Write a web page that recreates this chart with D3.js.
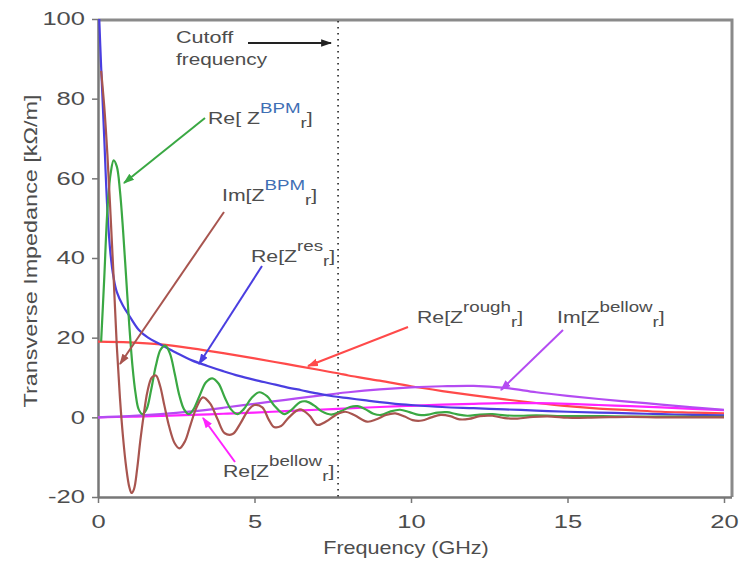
<!DOCTYPE html>
<html><head><meta charset="utf-8">
<script src="https://cdn.jsdelivr.net/npm/d3@7"></script>
<style>
html,body{margin:0;padding:0;background:#fff;}
svg text{font-family:"Liberation Sans",Arial,sans-serif;}
</style></head>
<body><svg id="c" width="743" height="564"></svg>
<script>
// ---- data (frequency GHz, impedance kOhm/m) ----
const xTicks = [0, 5, 10, 15, 20];
const yTicks = [-20, 0, 20, 40, 60, 80, 100];
const cutoffFreq = 7.67;

const fReBPM = [0.1,0.2,0.3,0.4,0.5,0.6,0.7,0.8,0.9,1.0,1.1,1.2,1.3,1.42,1.55,1.7,1.85,2.0,2.15,2.3,2.45,2.6,2.75,2.9,3.05,3.25,3.45,3.65,3.85,4.05,4.25,4.45,4.65,4.9,5.15,5.4,5.65,5.95,6.2,6.45,6.65,6.9,7.15,7.45,7.75,8.05,8.3,8.55,8.8,9.05,9.35,9.65,9.95,10.25,10.55,10.85,11.15,11.45,11.8,12.2,12.6,13.0,13.5,14,15,16,17,18,19,20];
const vReBPM = [19,35,52,61,64.5,63,57,47,35,23,13,6,2,0.8,2,7,13,17,18,16,11,5.5,2,0.8,2,5.5,8.8,9.8,8.5,5,2,0.8,2,4.8,6.3,5.3,2.8,0.8,2,3.8,4.0,3.0,1.5,0.7,1.5,2.6,2.8,2,0.9,0.6,1.5,1.9,1.3,0.6,0.7,1.2,1.3,0.8,0.4,0.7,0.8,0.5,0.4,0.5,0.3,0.3,0.2,0.2,0.15,0.1];

const fImBPM = [0.1,0.2,0.3,0.4,0.5,0.6,0.7,0.8,0.9,1.0,1.07,1.15,1.25,1.35,1.45,1.58,1.72,1.85,1.98,2.12,2.28,2.45,2.6,2.78,2.95,3.15,3.35,3.58,3.82,4.05,4.3,4.55,4.8,5.0,5.25,5.45,5.62,5.85,6.1,6.45,6.75,7.0,7.3,7.6,7.9,8.2,8.6,8.9,9.2,9.5,9.8,10.05,10.35,10.65,10.95,11.25,11.55,11.85,12.2,12.6,13.0,13.4,13.9,14.5,15,16,17,18,19,20];
const vImBPM = [87,78,66,51,35,18,5,-5,-12.5,-17.5,-19,-18,-13,-6,0,6.5,10,10.5,8,3,-2.5,-6.5,-7.8,-6,-2,2.5,5,3.5,-0.5,-4,-4.2,-1.5,1.8,3.1,2.5,-0.5,-2.4,-2.2,0,2.0,0.5,-1.9,-1.0,0.6,1.4,0.5,-1.1,-0.5,0.6,1.0,0.2,-0.7,-0.8,0,0.6,0.3,-0.5,-0.4,0.3,0.4,-0.2,-0.3,0.1,0.2,-0.1,0,0.1,0,0,0];

const fReRes = [0.03,0.1,0.2,0.3,0.4,0.5,0.6,0.8,1.0,1.3,1.6,2.0,2.5,3.0,3.5,4.0,4.5,5.0,5.5,6,6.5,7,7.5,8,8.5,9,9.5,10,11,12,13,14,15,16,17,18,19,20];
const vReRes = [102,88,70,52,41,35,31.5,28,25.5,22,20,18.3,16.2,14.3,12.9,11.6,10.4,9.4,8.5,7.6,6.8,6.0,5.3,4.8,4.3,3.8,3.4,3.1,2.6,2.3,2.0,1.7,1.4,1.2,1.0,0.8,0.6,0.5];

const fReRough = [0,1,2,3,4,5,6,7,7.7,8,9,10,11,12,13,14,15,16,17,18,19,20];
const vReRough = [19,18.8,18.3,17.3,16.1,14.8,13.4,12,11,10.5,9.2,7.8,6.6,5.5,4.5,3.6,2.8,2.2,1.8,1.4,1.2,1.0];

const fImBellow = [0,1,2,3,4,5,6,7,8,9,10,11,12,13,14,15,16,17,18,19,20];
const vImBellow = [0,0.3,0.8,1.5,2.4,3.4,4.4,5.4,6.3,7.0,7.5,7.8,7.9,7.4,6.3,5.4,4.6,3.9,3.2,2.5,1.9];

const fReBellow = [0,1,2,3,4,5,6,7,8,9,10,11,12,13,14,15,16,17,18,19,20];
const vReBellow = [0,0.15,0.35,0.6,0.9,1.2,1.55,1.9,2.25,2.6,2.9,3.2,3.4,3.55,3.55,3.4,3.1,2.8,2.5,2.1,1.8];

// ---- layout ----
const svg = d3.select("#c");
const L = 98, R = 724, T = 19, B = 497;
const x = d3.scaleLinear().domain([0, 20]).range([L, R]);
const y = d3.scaleLinear().domain([-20, 100]).range([B, T]);
const frameRight = 732;
const TXT = "#4d4d4d";

function stretch(sel, sx){
  sel.each(function(){
    const t = d3.select(this);
    const px = +t.attr("x") || 0, py = +t.attr("y") || 0;
    t.attr("transform", `translate(${px},${py}) scale(${sx},1) translate(${-px},${-py})`);
  });
}

const defs = svg.append("defs");
defs.append("clipPath").attr("id","clip")
  .append("rect").attr("x",L).attr("y",T).attr("width",frameRight-L).attr("height",B-T);

// frame top/right
svg.append("path").attr("d",`M${L},${T+1}H${frameRight}V${B}`)
  .attr("fill","none").attr("stroke","#8a8a8a").attr("stroke-width",3);

// axes
const fmt = d => String(d);
const gx = svg.append("g").attr("transform",`translate(0,${B})`)
  .call(d3.axisBottom(x).tickValues(xTicks).tickSize(6).tickPadding(12).tickFormat(fmt));
const gy = svg.append("g").attr("transform",`translate(${L},0)`)
  .call(d3.axisLeft(y).tickValues(yTicks).tickSize(6).tickPadding(7).tickFormat(fmt));
[gx, gy].forEach(g => {
  g.select(".domain").attr("stroke","#777").attr("stroke-width",2.5);
  g.selectAll(".tick line").attr("stroke","#777").attr("stroke-width",1.5);
  g.selectAll(".tick text").attr("fill",TXT).style("font-size","18px");
  stretch(g.selectAll(".tick text"), 1.42);
});
gx.select(".domain").attr("d",`M${L},0.5H${frameRight}`);
gy.select(".domain").attr("d",`M0.5,${B}V${T}`);

// axis titles
const xt = svg.append("text").attr("x",406).attr("y",554).attr("text-anchor","middle")
  .attr("fill",TXT).style("font-size","18px").text("Frequency (GHz)");
stretch(xt, 1.2);
svg.append("text").attr("transform","translate(37,251) rotate(-90) scale(1.3,1)").attr("text-anchor","middle")
  .attr("fill",TXT).style("font-size","18px").text("Transverse Impedance [kΩ/m]");

// cutoff line
svg.append("line").attr("x1",x(cutoffFreq)).attr("x2",x(cutoffFreq)).attr("y1",T+2).attr("y2",B)
  .attr("stroke","#222").attr("stroke-width",1.6).attr("stroke-dasharray","1.6,4.4");

// series
const series = [
  {f:fReRough, v:vReRough, c:"#ff4a4a"},
  {f:fReBellow, v:vReBellow, c:"#ff22ff"},
  {f:fImBellow, v:vImBellow, c:"#b44cf2"},
  {f:fReRes, v:vReRes, c:"#4a3ee0"},
  {f:fReBPM, v:vReBPM, c:"#3aa843"},
  {f:fImBPM, v:vImBPM, c:"#a8554f"}
];
const line = d3.line().x(d=>x(d[0])).y(d=>y(d[1])).curve(d3.curveCatmullRom.alpha(0.5));
const gl = svg.append("g").attr("clip-path","url(#clip)");
series.forEach(s => {
  gl.append("path").datum(s.f.map((f,i)=>[f,s.v[i]]))
    .attr("d",line).attr("fill","none").attr("stroke",s.c).attr("stroke-width",2.2)
    .attr("stroke-linejoin","round");
});

// arrows
function arrow(x1,y1,x2,y2,c,w){
  const id = "m"+c.replace("#","");
  if (defs.select("#"+id).empty()) {
    defs.append("marker").attr("id",id).attr("viewBox","0 0 10 10").attr("refX",9).attr("refY",5)
      .attr("markerWidth",5.5).attr("markerHeight",5.5).attr("markerUnits","strokeWidth").attr("orient","auto")
      .append("path").attr("d","M0,1.5L10,5L0,8.5Z").attr("fill",c);
  }
  svg.append("line").attr("x1",x1).attr("y1",y1).attr("x2",x2).attr("y2",y2)
    .attr("stroke",c).attr("stroke-width",w||2).attr("marker-end",`url(#${id})`);
}
arrow(205,118,124,183,"#3aa843");
arrow(224,212,120,364,"#a8554f");
arrow(262,266,199,364,"#4a3ee0");
arrow(408,327,308,366,"#ff4a4a");
arrow(563,330,501,390,"#b44cf2");
arrow(235,462,203,418,"#ff22ff");
arrow(248,43,331,43,"#222",2);

// labels
function zlabel(px,py,pre,sup,supColor){
  const t = svg.append("text").attr("x",px).attr("y",py).attr("fill",TXT).style("font-size","17px");
  t.append("tspan").text(pre);
  t.append("tspan").attr("dy",-11).style("font-size","15px").attr("fill",supColor||TXT).text(sup);
  t.append("tspan").attr("dy",15).attr("dx",0).style("font-size","15px").text("r");
  t.append("tspan").attr("dy",-4).text("]");
  stretch(t, 1.25);
}
zlabel(208,124,"Re[ Z","BPM","#3f6fb5");
zlabel(222,201,"Im[Z","BPM","#3f6fb5");
zlabel(251,262,"Re[Z","res");
zlabel(417,323,"Re[Z","rough");
zlabel(557,323,"Im[Z","bellow");
zlabel(223,477,"Re[Z","bellow");

stretch(svg.append("text").attr("x",176).attr("y",43).attr("fill",TXT).style("font-size","17px").text("Cutoff"), 1.27);
stretch(svg.append("text").attr("x",176).attr("y",65).attr("fill",TXT).style("font-size","17px").text("frequency"), 1.22);
</script></body></html>
